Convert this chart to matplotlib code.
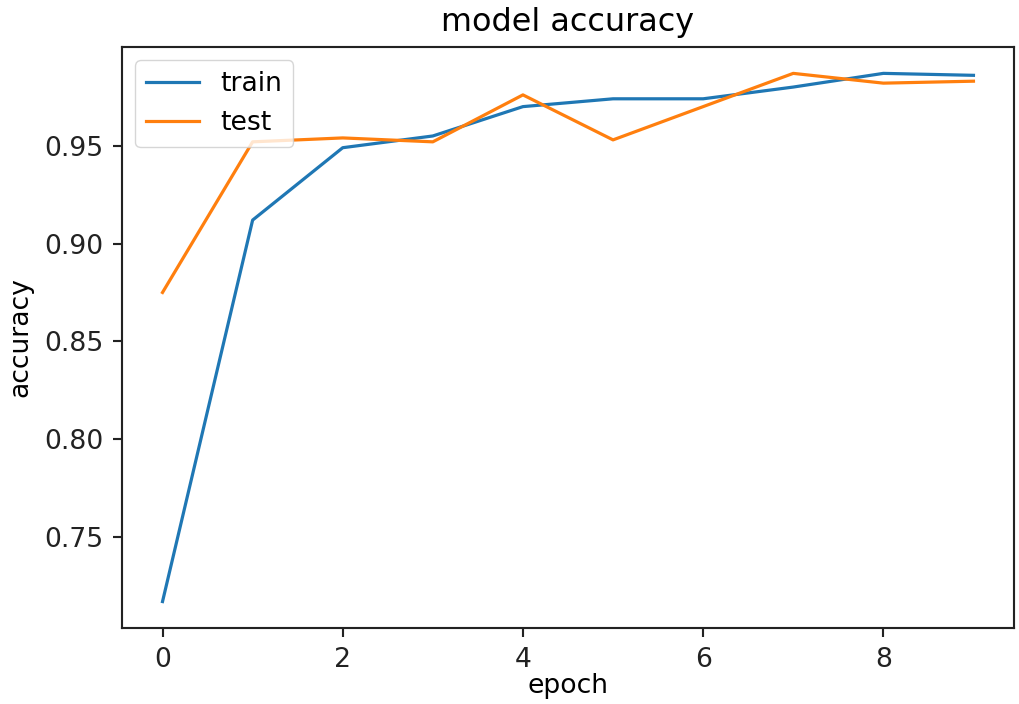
import matplotlib
matplotlib.use('Agg')
import matplotlib.pyplot as plt

# Accuracy per epoch
epochs = [0, 1, 2, 3, 4, 5, 6, 7, 8, 9]
train_acc = [0.717, 0.912, 0.949, 0.955, 0.970, 0.974, 0.974, 0.980, 0.987, 0.986]
test_acc = [0.875, 0.952, 0.954, 0.952, 0.976, 0.953, 0.970, 0.987, 0.982, 0.983]

s = 1.915  # scale from default sizes to this canvas

fig = plt.figure(figsize=(10.19, 7.04), dpi=100)
ax = fig.add_axes([0.1197, 0.1080, 0.8754, 0.8253])

ax.plot(epochs, train_acc, linewidth=1.5 * s * 0.8, label='train')
ax.plot(epochs, test_acc, linewidth=1.5 * s * 0.8, label='test')

ax.set_title('model accuracy', fontsize=12 * s, pad=6 * s)
ax.set_ylabel('accuracy', fontsize=10 * s, labelpad=4 * s)
ax.set_xlabel('epoch', fontsize=10 * s, labelpad=0.5)
ax.set_xticks([0, 2, 4, 6, 8])
ax.set_yticks([0.75, 0.80, 0.85, 0.90, 0.95])
ax.tick_params(labelsize=10 * s, length=3.5 * s, width=0.8 * s, pad=3.5 * s, colors='#222222')
for sp in ax.spines.values():
    sp.set_linewidth(0.8 * s)
    sp.set_color('#222222')

ax.legend(loc='upper left', fontsize=10 * s, borderpad=0.4, handlelength=2.0)

fig.savefig('out.png', dpi=100)
